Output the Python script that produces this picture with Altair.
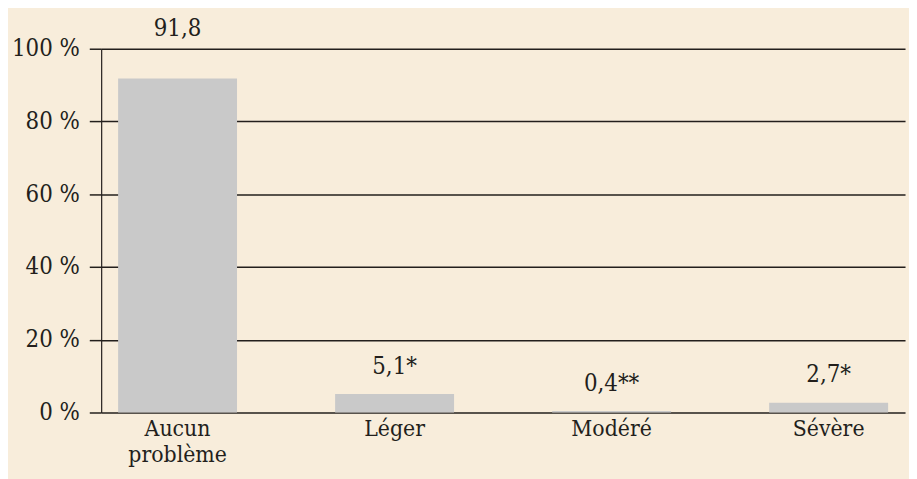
import altair as alt
import pandas as pd

categories = ["Aucun problème", "Léger", "Modéré", "Sévère"]
values = [91.8, 5.1, 0.4, 2.7]
labels = ["91,8", "5,1*", "0,4**", "2,7*"]

df = pd.DataFrame({"cat": categories, "value": values, "label": labels})

FONT = "DejaVu Serif Condensed"
INK = "#231f1c"

x = alt.X(
    "cat:N",
    sort=categories,
    scale=alt.Scale(paddingInner=0.452, paddingOuter=0.078),
    axis=alt.Axis(
        title=None, ticks=False, domain=False, labelAngle=0,
        labelFont=FONT, labelFontSize=23, labelColor=INK,
        labelPadding=5, labelLineHeight=26,
        labelExpr="split(datum.label, ' ')",
    ),
)

bars = alt.Chart(df).mark_bar(color="#c9c9c9").encode(
    x=x,
    y=alt.Y(
        "value:Q",
        scale=alt.Scale(domain=[0, 100], nice=False),
        axis=alt.Axis(
            title=None, values=[0, 20, 40, 60, 80, 100],
            labelExpr="datum.value + ' %'",
            labelFont=FONT, labelFontSize=24, labelColor=INK,
            tickSize=12, tickColor=INK, tickWidth=1.5, labelPadding=10,
            domain=True, domainColor=INK, domainWidth=1.2,
            grid=True, gridColor=INK, gridWidth=1.5, gridOpacity=1,
        ),
    ),
)

text = alt.Chart(df).transform_calculate(
    pos="datum.value > 90 ? 105.4 : datum.value + 7.5"
).mark_text(
    font=FONT, fontSize=24, color=INK, baseline="middle", clip=False
).encode(
    x=alt.X("cat:N", sort=categories),
    y=alt.Y("pos:Q"),
    text="label:N",
)

chart = (
    alt.layer(bars, text)
    .properties(
        width=811,
        height=367,
        autosize=alt.AutoSizeParams(type="none"),
        padding={"left": 94, "top": 39, "right": 4, "bottom": 65},
        background="#f8eddb",
    )
    .configure_view(stroke=None)
)

chart.save("out.html", embed_options={"renderer": "svg", "actions": False})
